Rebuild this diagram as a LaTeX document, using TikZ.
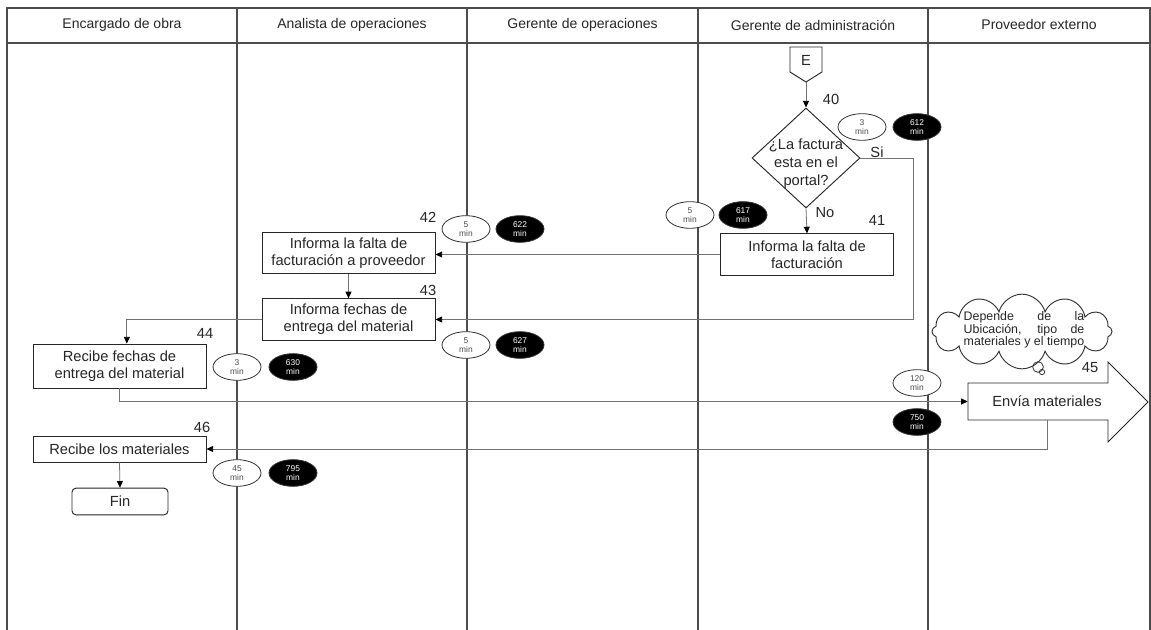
\documentclass[tikz,border=0pt]{standalone}
\usepackage{fontspec}
\setmainfont{Liberation Sans}
\usetikzlibrary{shapes.geometric,shapes.symbols,arrows.meta}

\tikzset{
  lane/.style={draw=black!70, line width=1pt},
  head/.style={font=\fontsize{10.5}{12}\selectfont, text=black!85},
  flow/.style={draw=black!55, line width=0.6pt, -{Triangle[length=5pt,width=4.5pt,black]}},
  proc/.style={draw=black!85, line width=0.7pt, fill=white, minimum width=129.75pt,
    minimum height=31pt, inner sep=1pt, align=center,
    font=\fontsize{11}{13}\selectfont, text=black!85},
  num/.style={font=\fontsize{11}{12}\selectfont, text=black!85},
  tmin/.style={ellipse, draw=black!80, line width=0.6pt, fill=white, minimum width=36pt,
    minimum height=20pt, inner sep=0pt, align=center,
    font=\fontsize{6.3}{6.8}\selectfont, text=black!70},
  tacc/.style={tmin, fill=black, text=white}
}

\begin{document}
\begin{tikzpicture}[x=0.75pt, y=-0.75pt]
  \useasboundingbox (0,0) rectangle (1151,630);

  % lanes
  \draw[lane] (7,630) -- (7,8) -- (1150,8) -- (1150,630);
  \draw[lane] (7,43) -- (1150,43);
  \foreach \lx in {237,467,698,928}
    \draw[lane] (\lx,8) -- (\lx,630);

  \node[head] (hobra) at (122,25) {Encargado de obra};
  \node[head] (hanal) at (352,25) {Analista de operaciones};
  \node[head] (hgop) at (582.5,25) {Gerente de operaciones};
  \node[head] (hgadm) at (813,25) {Gerente de administración};
  \node[head] (hprov) at (1039,25) {Proveedor externo};

  % entry and decision
  \draw[draw=black!85, line width=0.7pt, fill=white]
    (790,47) -- (822,47) -- (822,72) -- (806,82) -- (790,72) -- cycle;
  \node[num] (ent) at (806,60) {E};
  \coordinate (etip) at (806,82);

  \node[diamond, draw=black!85, line width=0.7pt, fill=white, minimum width=81pt,
    minimum height=75pt, inner sep=0pt] (dec) at (806,158) {};
  \node[align=center, font=\fontsize{11}{13.5}\selectfont, text=black!85] (dectxt)
    at (806,164) {¿La factura\\esta en el\\portal?};

  \node[proc] (b41) at (807,254.5) {Informa la falta de\\facturación};
  \node[proc] (b42) at (348.5,253) {Informa la falta de\\facturación a proveedor};
  \node[proc] (b43) at (348.5,319.5) {Informa fechas de\\entrega del material};
  \node[proc, minimum height=33pt] (b44) at (119.5,366) {Recibe fechas de\\entrega del material};
  \node[proc, minimum height=19.5pt] (b46) at (119.5,449) {Recibe los materiales};
  \node[proc, rounded corners=3pt, minimum width=72pt, minimum height=20pt] (fin)
    at (120,501.5) {Fin};

  % shipment arrow
  \draw[draw=black!85, line width=0.7pt, fill=white]
    (968,383) -- (1108,383) -- (1108,362) -- (1148,402) -- (1108,442) -- (1108,420)
    -- (968,420) -- cycle;
  \node[font=\fontsize{11}{13}\selectfont, text=black!85, minimum width=118.5pt,
    minimum height=27.75pt, inner sep=0pt] (b45) at (1047,401.5) {Envía materiales};

  % note
  \node[cloud, draw=black!80, line width=0.7pt, fill=white, cloud puffs=12,
    cloud ignores aspect, minimum width=135pt, minimum height=56pt, inner sep=0pt]
    (nube) at (1022,331.5) {};
  \node[text width=90.5pt, align=justify, inner sep=0pt,
    font=\fontsize{9.3}{9.4}\selectfont, text=black!85] (nubetxt) at (1024,330)
    {Depende de la\linebreak Ubicación, tipo de\linebreak materiales y el tiempo};
  \draw[draw=black!80, line width=0.6pt] (1038,367) circle (4pt);
  \draw[draw=black!80, line width=0.6pt] (1042,372) circle (2pt);

  % step numbers and labels
  \node[num] (n40) at (831,99) {40};
  \node[num] (n41) at (877,220) {41};
  \node[num] (n42) at (428,217) {42};
  \node[num] (n43) at (428,290) {43};
  \node[num] (n44) at (205,333) {44};
  \node[num] (n45) at (1090,368) {45};
  \node[num] (n46) at (202,427) {46};
  \node[num] (lsi) at (877,152) {Si};
  \node[num] (lno) at (825,213) {No};

  % times
  \node[tmin] (t40) at (862,127) {3\\min};
  \node[tacc] (a40) at (917,127) {612\\min};
  \node[tmin] (t41) at (690,215) {5\\min};
  \node[tacc] (a41) at (743,215) {617\\min};
  \node[tmin] (t42) at (466,229) {5\\min};
  \node[tacc] (a42) at (520,229) {622\\min};
  \node[tmin] (t43) at (466,345) {5\\min};
  \node[tacc] (a43) at (520,345) {627\\min};
  \node[tmin] (t44) at (237,367) {3\\min};
  \node[tacc] (a44) at (293,367) {630\\min};
  \node[tmin] (t45) at (917,383) {120\\min};
  \node[tacc] (a45) at (917,422) {750\\min};
  \node[tmin] (t46) at (237,473) {45\\min};
  \node[tacc] (a46) at (293,473) {795\\min};

  % connectors
  \coordinate (sibaja) at (913,319.5);
  \draw[flow] (etip) -- (dec.north);
  \draw[flow] (dec.south) -- (b41.north);
  \draw[flow] (dec.east) -| (sibaja) -- (b43.east);
  \draw[flow] (b41.west) -- (b41.west -| b42.east);
  \draw[flow] (b42.south) -- (b43.north);
  \draw[flow] (b43.west) -| ([xshift=5.5pt]b44.north);
  \draw[flow] (b44.south) |- (b45.west);
  \draw[flow] (b45.south) |- (b46.east);
  \draw[flow] (b46.south) -- (fin.north);
\end{tikzpicture}
\end{document}
